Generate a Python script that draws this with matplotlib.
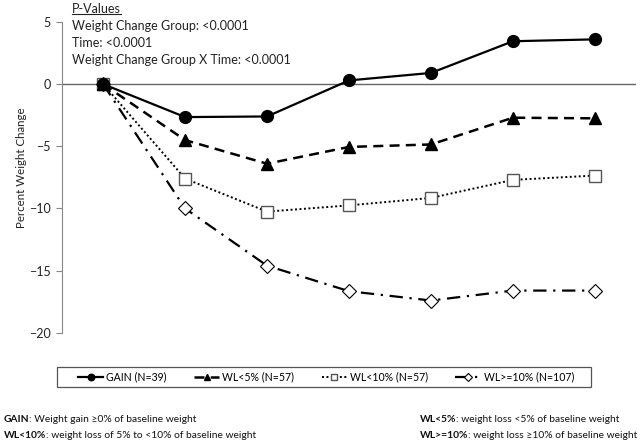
import matplotlib.pyplot as plt
from matplotlib.lines import Line2D
from matplotlib.patches import Rectangle

plt.rcParams['font.family'] = ['Lato', 'DejaVu Sans']

# data
timepoints = [0, 1, 2, 3, 4, 5, 6]
gain = [0, -2.65, -2.6, 0.3, 0.9, 3.45, 3.6]
wl5 = [0, -4.5, -6.4, -5.05, -4.85, -2.7, -2.75]
wl10 = [0, -7.6, -10.25, -9.75, -9.15, -7.7, -7.35]
wl10plus = [0, -10.0, -14.6, -16.65, -17.4, -16.6, -16.6]
labels = ['GAIN (N=39)', 'WL<5% (N=57)', 'WL<10% (N=57)', 'WL>=10% (N=107)']
yticks = [5, 0, -5, -10, -15, -20]

fig = plt.figure(figsize=(6.41, 4.48), dpi=100)
ax = fig.add_axes([0.097, 0.257, 0.895, 0.694])

ax.plot(timepoints, gain, '-', color='black', lw=1.6, marker='o', ms=8.5,
        label=labels[0], zorder=5)
ax.plot(timepoints, wl5, color='black', lw=1.8, ls=(0, (4, 2.5)), marker='^',
        ms=9, label=labels[1], zorder=4)
ax.plot(timepoints, wl10, color='black', lw=1.4, ls=(0, (1, 1.3)), marker='s',
        ms=8, mfc='white', mec='#555555', mew=1.0, label=labels[2], zorder=3)
ax.plot(timepoints, wl10plus, color='black', lw=1.6, ls=(0, (6, 3, 1, 3)),
        marker='D', ms=7, mfc='white', mec='black', mew=0.8, label=labels[3], zorder=2)

ax.axhline(0, color='#666666', lw=1.0, zorder=1)
ax.set_xlim(-0.5, 6.5)
ax.set_ylim(-20, 5)
ax.set_yticks(yticks)
ax.set_xticks([])
for s in ['top', 'right', 'bottom']:
    ax.spines[s].set_visible(False)
ax.spines['left'].set_color('#888888')
ax.tick_params(axis='y', length=4, color='#888888', labelsize=9, pad=4, labelcolor='#222222')
ax.set_ylabel('Percent Weight Change', fontsize=8.3, color='#222222')
ax.yaxis.set_label_coords(-0.062, 0.53)

# p-values block
pv = fig.text(0.112, 0.993, 'P-Values', fontsize=9, va='top', color='#222222')
fig.canvas.draw()
bb = pv.get_window_extent().transformed(fig.transFigure.inverted())
fig.add_artist(Line2D([bb.x0, bb.x1], [bb.y0 + 0.003, bb.y0 + 0.003],
                      transform=fig.transFigure, color='#222222', lw=0.8))
pv_lines = ['Weight Change Group: <0.0001', 'Time: <0.0001',
            'Weight Change Group X Time: <0.0001']
for i, t in enumerate(pv_lines):
    fig.text(0.112, 0.955 - i * 0.038, t, fontsize=9, va='top', color='#222222')

# legend box spans about x 57..591, y 367..387 px; entries from 80 to 570
fig.add_artist(Rectangle((57 / 641, 61 / 448), 534 / 641, 20 / 448, transform=fig.transFigure,
                         fill=False, edgecolor='#555555', lw=0.9))
leg = fig.legend(loc='center left', bbox_to_anchor=(78 / 641, 71 / 448, 496 / 641, 0),
                 mode='expand', ncol=4, fontsize=7.6, handlelength=2.4, handletextpad=0.3,
                 frameon=False, borderpad=0, markerscale=0.55, borderaxespad=0)

# definitions under the legend
defs = [
    (0.006, 0.058, 'GAIN', ': Weight gain \u22650% of baseline weight'),
    (0.006, 0.022, 'WL<10%', ': weight loss of 5% to <10% of baseline weight'),
    (0.655, 0.058, 'WL<5%', ': weight loss <5% of baseline weight'),
    (0.655, 0.022, 'WL>=10%', ': weight loss \u226510% of baseline weight'),
]
for x, y, b, rest in defs:
    tb = fig.text(x, y, b, fontsize=7.4, fontweight='bold', va='baseline', color='#111111')
    ax.annotate(rest, xy=(1, 0), xycoords=tb, va='bottom', ha='left',
                fontsize=7.4, color='#111111', annotation_clip=False)

plt.savefig('out.png', dpi=100)
